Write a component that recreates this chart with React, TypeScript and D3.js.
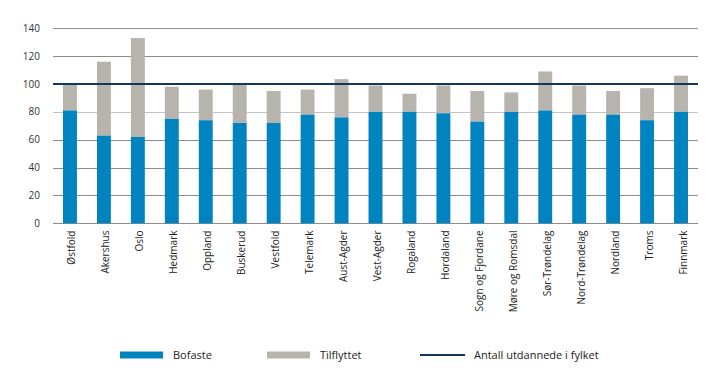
import React from "react";
import * as d3 from "d3";

const categories = [
  "Østfold", "Akershus", "Oslo", "Hedmark", "Oppland", "Buskerud", "Vestfold",
  "Telemark", "Aust-Agder", "Vest-Agder", "Rogaland", "Hordaland",
  "Sogn og Fjordane", "Møre og Romsdal", "Sør-Trøndelag", "Nord-Trøndelag",
  "Nordland", "Troms", "Finnmark",
];
const bofaste = [81, 63, 62, 75, 74, 72, 72, 78, 76, 80, 80, 79, 73, 80, 81, 78, 78, 74, 80];
const tilflyttet = [19, 53, 71, 23, 22, 28, 23, 18, 27.5, 19, 13, 20, 22, 14, 28, 21, 17, 23, 26];
const referenceValue = 100;
const yTicks = [0, 20, 40, 60, 80, 100, 120, 140];
const legendLabels = ["Bofaste", "Tilflyttet", "Antall utdannede i fylket"];

const W = 719;
const H = 383;
const margin = { left: 53, right: 21, top: 28, bottom: 160 };
const BLUE = "#0083bf";
const GREY = "#b7b3ad";
const NAVY = "#14365c";
const FONT = "'Open Sans', sans-serif";

export default function App() {
  const x = d3
    .scaleBand<string>()
    .domain(categories)
    .range([margin.left, W - margin.right])
    .paddingInner(0.59)
    .paddingOuter(0.295);
  const y = d3.scaleLinear().domain([0, 140]).range([223.3, 28.3]);
  const bw = x.bandwidth();

  return (
    <svg
      width={W}
      height={H}
      style={{ position: "absolute", left: 0, top: 0, background: "#fff" }}
      fontFamily={FONT}
    >
      {yTicks.map((t) => (
        <g key={t}>
          <line
            x1={margin.left}
            x2={W - margin.right}
            y1={Math.round(y(t)) + 0.5}
            y2={Math.round(y(t)) + 0.5}
            stroke={t === 80 ? "#c4c4c4" : "#8c8c8c"}
            strokeWidth={1}
          />
          <text
            x={40}
            y={y(t)}
            dy="0.35em"
            textAnchor="end"
            fontSize={10}
            fill="#333"
          >
            {t}
          </text>
        </g>
      ))}
      {categories.map((c, i) => {
        const x0 = x(c)!;
        const b = bofaste[i];
        const tot = b + tilflyttet[i];
        return (
          <g key={c}>
            <rect x={x0} y={y(tot)} width={bw} height={y(b) - y(tot)} fill={GREY} />
            <rect x={x0} y={y(b)} width={bw} height={y(0) - y(b)} fill={BLUE} />
          </g>
        );
      })}
      <line
        x1={margin.left}
        x2={W - margin.right}
        y1={y(referenceValue)}
        y2={y(referenceValue)}
        stroke={NAVY}
        strokeWidth={2}
      />
      {categories.map((c) => {
        const cx = x(c)! + bw / 2 + 2;
        return (
          <text
            key={c}
            transform={`translate(${cx},230.5) rotate(-90)`}
            textAnchor="end"
            dy="0.35em"
            fontSize={10}
            fill="#222"
          >
            {c}
          </text>
        );
      })}
      <g fontSize={11} fill="#222">
        <rect x={120} y={351.5} width={43} height={7} fill={BLUE} />
        <text x={173} y={355} dy="0.35em">{legendLabels[0]}</text>
        <rect x={267} y={351.5} width={43} height={7} fill={GREY} />
        <text x={320} y={355} dy="0.35em">{legendLabels[1]}</text>
        <line x1={420} x2={465} y1={355} y2={355} stroke={NAVY} strokeWidth={2} />
        <text x={474} y={355} dy="0.35em">{legendLabels[2]}</text>
      </g>
    </svg>
  );
}
